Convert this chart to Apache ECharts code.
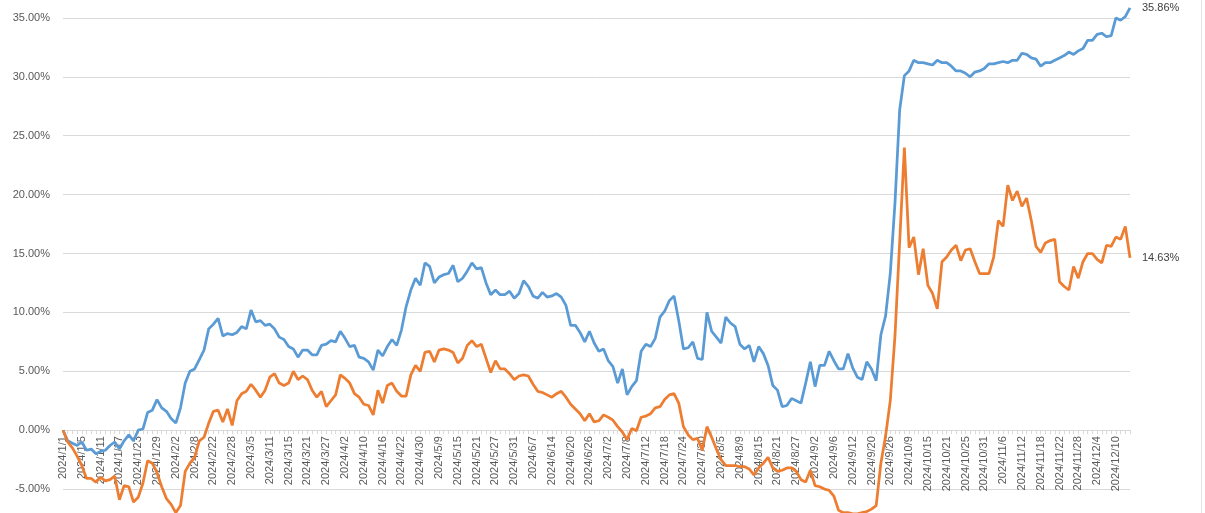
<!DOCTYPE html>
<html>
<head>
<meta charset="utf-8">
<title>chart</title>
<script src="https://cdn.jsdelivr.net/npm/echarts@6.0.0/dist/echarts.min.js"></script>
<style>
  html, body { margin: 0; padding: 0; background: #fff; }
  #main { width: 1205px; height: 513px; }
</style>
</head>
<body>
<div id="main"></div>
<script>
// trading days (x categories)
const dates = [
  '2024/1/1','2024/1/2','2024/1/3','2024/1/4','2024/1/5','2024/1/8','2024/1/9','2024/1/10','2024/1/11','2024/1/12','2024/1/15','2024/1/16','2024/1/17','2024/1/18','2024/1/19','2024/1/22','2024/1/23','2024/1/24','2024/1/25','2024/1/26','2024/1/29','2024/1/30','2024/1/31',
  '2024/2/1','2024/2/2','2024/2/5','2024/2/6','2024/2/7','2024/2/8','2024/2/19','2024/2/20','2024/2/21','2024/2/22','2024/2/23','2024/2/26','2024/2/27','2024/2/28','2024/2/29',
  '2024/3/1','2024/3/4','2024/3/5','2024/3/6','2024/3/7','2024/3/8','2024/3/11','2024/3/12','2024/3/13','2024/3/14','2024/3/15','2024/3/18','2024/3/19','2024/3/20','2024/3/21','2024/3/22','2024/3/25','2024/3/26','2024/3/27','2024/3/28','2024/3/29',
  '2024/4/1','2024/4/2','2024/4/3','2024/4/8','2024/4/9','2024/4/10','2024/4/11','2024/4/12','2024/4/15','2024/4/16','2024/4/17','2024/4/18','2024/4/19','2024/4/22','2024/4/23','2024/4/24','2024/4/26','2024/4/30',
  '2024/5/6','2024/5/7','2024/5/8','2024/5/9','2024/5/10','2024/5/13','2024/5/14','2024/5/15','2024/5/16','2024/5/17','2024/5/20','2024/5/21','2024/5/22','2024/5/23','2024/5/24','2024/5/27','2024/5/28','2024/5/29','2024/5/30','2024/5/31',
  '2024/6/3','2024/6/4','2024/6/5','2024/6/7','2024/6/11','2024/6/12','2024/6/13','2024/6/14','2024/6/17','2024/6/18','2024/6/19','2024/6/20','2024/6/21','2024/6/24','2024/6/25','2024/6/26','2024/6/27','2024/6/28',
  '2024/7/1','2024/7/2','2024/7/3','2024/7/4','2024/7/5','2024/7/8','2024/7/9','2024/7/10','2024/7/11','2024/7/12','2024/7/15','2024/7/16','2024/7/17','2024/7/18','2024/7/19','2024/7/22','2024/7/23','2024/7/24','2024/7/25','2024/7/26','2024/7/29','2024/7/30','2024/7/31',
  '2024/8/1','2024/8/2','2024/8/5','2024/8/6','2024/8/7','2024/8/8','2024/8/9','2024/8/12','2024/8/13','2024/8/14','2024/8/15','2024/8/16','2024/8/19','2024/8/20','2024/8/21','2024/8/22','2024/8/23','2024/8/26','2024/8/27','2024/8/28','2024/8/29','2024/8/30',
  '2024/9/2','2024/9/3','2024/9/4','2024/9/5','2024/9/6','2024/9/9','2024/9/10','2024/9/11','2024/9/12','2024/9/13','2024/9/18','2024/9/19','2024/9/20','2024/9/23','2024/9/24','2024/9/25','2024/9/26','2024/9/27','2024/9/30',
  '2024/10/8','2024/10/9','2024/10/10','2024/10/11','2024/10/14','2024/10/15','2024/10/16','2024/10/17','2024/10/18','2024/10/21','2024/10/22','2024/10/23','2024/10/24','2024/10/25','2024/10/28','2024/10/29','2024/10/30','2024/10/31',
  '2024/11/1','2024/11/4','2024/11/5','2024/11/6','2024/11/7','2024/11/8','2024/11/11','2024/11/12','2024/11/13','2024/11/14','2024/11/15','2024/11/18','2024/11/19','2024/11/20','2024/11/21','2024/11/22','2024/11/25','2024/11/26','2024/11/27','2024/11/28','2024/11/29',
  '2024/12/2','2024/12/3','2024/12/4','2024/12/5','2024/12/6','2024/12/9','2024/12/10','2024/12/11','2024/12/12','2024/12/13'
];

// cumulative return, % (blue line)
const blueLine = [
  0, -0.9, -1.1, -1.3, -1.0, -1.7, -1.6, -2.0, -1.8, -1.7, -1.3, -1.0, -1.6, -0.9, -0.4, -0.9, 0.0, 0.1, 1.5, 1.7,
  2.6, 1.9, 1.6, 1.0, 0.6, 1.9, 4.0, 5.0, 5.2, 6.0, 6.8, 8.6, 9.0, 9.5, 8.0, 8.2, 8.1, 8.3, 8.8, 8.6,
  10.2, 9.2, 9.3, 8.9, 9.0, 8.6, 7.9, 7.7, 7.1, 6.9, 6.2, 6.8, 6.8, 6.4, 6.4, 7.2, 7.3, 7.6, 7.5, 8.4,
  7.8, 7.1, 7.2, 6.2, 6.1, 5.8, 5.1, 6.8, 6.3, 7.1, 7.7, 7.2, 8.5, 10.5, 11.9, 12.9, 12.3, 14.2, 13.9, 12.5,
  13.0, 13.2, 13.3, 14.0, 12.6, 12.9, 13.5, 14.2, 13.7, 13.8, 12.5, 11.5, 11.9, 11.5, 11.5, 11.8, 11.2, 11.6, 12.7, 12.2,
  11.4, 11.2, 11.7, 11.3, 11.4, 11.6, 11.3, 10.6, 8.9, 8.9, 8.3, 7.5, 8.4, 7.4, 6.7, 6.9, 5.9, 5.4, 4.0, 5.2,
  3.0, 3.7, 4.2, 6.7, 7.3, 7.1, 7.8, 9.6, 10.1, 11.0, 11.4, 9.3, 6.9, 7.0, 7.5, 6.1, 6.0, 10.0, 8.4, 7.9,
  7.4, 9.6, 9.1, 8.8, 7.3, 6.9, 7.2, 5.8, 7.1, 6.5, 5.5, 3.8, 3.4, 2.0, 2.1, 2.7, 2.5, 2.3, 4.0, 5.8,
  3.7, 5.5, 5.5, 6.7, 5.9, 5.2, 5.2, 6.5, 5.3, 4.5, 4.3, 5.8, 5.2, 4.2, 8.1, 9.7, 13.3, 19.3, 27.2, 30.1,
  30.5, 31.4, 31.2, 31.2, 31.1, 31.0, 31.4, 31.2, 31.2, 30.9, 30.5, 30.5, 30.3, 30.0, 30.4, 30.5, 30.7, 31.1, 31.1, 31.2,
  31.3, 31.2, 31.4, 31.4, 32.0, 31.9, 31.6, 31.5, 30.9, 31.2, 31.2, 31.4, 31.6, 31.8, 32.1, 31.9, 32.2, 32.4, 33.1, 33.1,
  33.6, 33.7, 33.4, 33.5, 35.0, 34.8, 35.1, 35.86
];

// cumulative return, % (orange line)
const orangeLine = [
  0, -1.0, -1.5, -2.2, -3.0, -4.1, -4.1, -4.4, -4.0, -4.3, -4.2, -3.9, -5.9, -4.7, -4.8, -6.1, -5.7, -4.5, -2.6, -2.8,
  -3.6, -4.8, -5.8, -6.3, -7.0, -6.4, -3.5, -2.8, -2.3, -0.9, -0.6, 0.6, 1.6, 1.7, 0.7, 1.8, 0.4, 2.5, 3.1, 3.3,
  3.9, 3.4, 2.8, 3.4, 4.5, 4.8, 4.0, 3.8, 4.0, 5.0, 4.3, 4.6, 4.3, 3.4, 2.8, 3.3, 2.0, 2.5, 3.0, 4.7,
  4.4, 4.0, 3.1, 2.8, 2.2, 2.1, 1.3, 3.4, 2.3, 3.8, 4.0, 3.3, 2.9, 2.9, 4.7, 5.5, 5.0, 6.6, 6.7, 5.8,
  6.8, 6.9, 6.8, 6.6, 5.7, 6.1, 7.2, 7.6, 7.1, 7.3, 6.1, 4.9, 5.9, 5.2, 5.2, 4.8, 4.3, 4.6, 4.7, 4.6,
  3.9, 3.3, 3.2, 3.0, 2.8, 3.1, 3.3, 2.8, 2.2, 1.8, 1.4, 0.8, 1.4, 0.7, 0.8, 1.3, 1.1, 0.85, 0.3, -0.15,
  -0.8, 0.15, -0.05, 1.1, 1.2, 1.4, 1.9, 2.0, 2.6, 3.0, 3.1, 2.3, 0.3, -0.4, -0.8, -0.7, -1.7, 0.3, -0.6, -1.6,
  -2.5, -3.0, -3.0, -3.0, -3.1, -3.1, -3.3, -3.8, -3.2, -2.8, -2.3, -3.2, -3.5, -3.4, -3.2, -3.2, -3.5, -4.2, -4.4, -3.4,
  -4.7, -4.8, -5.0, -5.1, -5.6, -6.8, -7.0, -7.0, -7.1, -7.1, -7.0, -6.9, -6.7, -6.4, -2.8, -0.5, 2.5, 8.0, 16.0, 24.0,
  15.5, 16.4, 13.2, 15.4, 12.3, 11.6, 10.3, 14.3, 14.7, 15.3, 15.7, 14.4, 15.3, 15.4, 14.3, 13.3, 13.3, 13.3, 14.7, 17.8,
  17.3, 20.8, 19.5, 20.3, 19.0, 19.7, 17.8, 15.6, 15.1, 15.9, 16.1, 16.2, 12.6, 12.2, 11.9, 13.9, 12.9, 14.3, 15.0, 15.0,
  14.5, 14.2, 15.7, 15.6, 16.4, 16.2, 17.3, 14.63
];

const yMin = -10;
const yMax = 40;
const yStep = 5;

// the picture is a crop: the plot runs a bit past the top and bottom edges
const H = 513;
const gridTop = -41;
const gridBottom = -35;
const plotH = H - gridTop - gridBottom;
// lift the category axis (line, ticks, labels) from the plot bottom up to 0%
const zeroLift = -(0 - yMin) / (yMax - yMin) * plotH;

const chart = echarts.init(document.getElementById('main'));

const pct = v => v.toFixed(2) + '%';

chart.setOption({
  backgroundColor: '#ffffff',
  animation: false,
  textStyle: { fontFamily: 'Liberation Sans, Arial, sans-serif' },
  grid: { left: 63, right: 75, top: gridTop, bottom: gridBottom, outerBoundsMode: 'none', containLabel: false },
  // faint chart-area border on the right edge
  graphic: [{
    type: 'line',
    shape: { x1: 1201.5, y1: 0, x2: 1201.5, y2: H },
    style: { stroke: '#e4e4e4', lineWidth: 1 },
    silent: true
  }],
  xAxis: {
    type: 'category',
    data: dates,
    boundaryGap: false,
    offset: zeroLift,
    axisLine: { onZero: false, lineStyle: { color: '#d9d9d9', width: 1 } },
    axisTick: { show: true, interval: 0, length: 4, lineStyle: { color: '#d9d9d9' } },
    axisLabel: {
      interval: 3,
      rotate: 90,
      margin: 6,
      fontSize: 11,
      color: '#595959',
      hideOverlap: false
    },
    splitLine: { show: false }
  },
  yAxis: {
    type: 'value',
    min: yMin,
    max: yMax,
    interval: yStep,
    axisLine: { show: false },
    axisTick: { show: false },
    axisLabel: { formatter: v => pct(v), fontSize: 11, color: '#595959', margin: 13 },
    splitLine: { lineStyle: { color: '#d9d9d9', width: 1 } }
  },
  series: [
    {
      name: 'blue',
      type: 'line',
      data: blueLine,
      symbol: 'none',
      lineStyle: { color: '#5b9bd5', width: 2.75 },
      itemStyle: { color: '#5b9bd5' },
      endLabel: { show: true, formatter: p => pct(p.value), color: '#404040', fontSize: 11, distance: 12 }
    },
    {
      name: 'orange',
      type: 'line',
      data: orangeLine,
      symbol: 'none',
      lineStyle: { color: '#ed7d31', width: 2.75 },
      itemStyle: { color: '#ed7d31' },
      endLabel: { show: true, formatter: p => pct(p.value), color: '#404040', fontSize: 11, distance: 12 }
    }
  ]
});
</script>
</body>
</html>
